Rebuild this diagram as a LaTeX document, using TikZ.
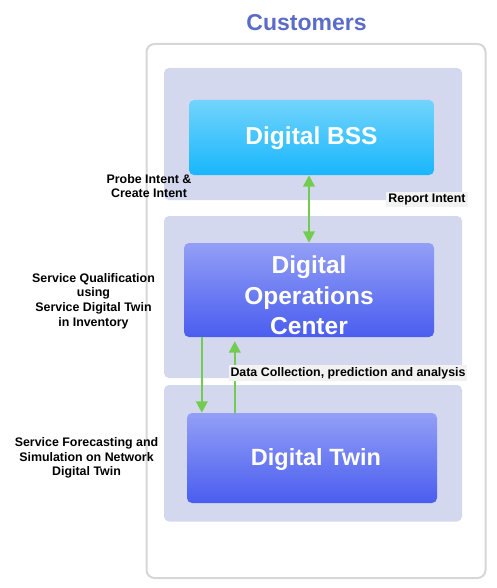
\documentclass[tikz,border=0pt]{standalone}
\usepackage{fontspec}
\setmainfont{Liberation Sans}
\usetikzlibrary{arrows.meta}
\definecolor{panelc}{HTML}{D4D8EE}
\definecolor{outerc}{HTML}{D6D6D6}
\definecolor{titlec}{HTML}{5B6CC8}
\definecolor{bsstop}{HTML}{72D4FC}
\definecolor{bssbot}{HTML}{18B6FC}
\definecolor{bluetop}{HTML}{939FF6}
\definecolor{bluebot}{HTML}{4A5DEF}
\definecolor{arrowc}{HTML}{72CC50}
\definecolor{lblbg}{HTML}{F2F2F2}
\begin{document}
\begin{tikzpicture}[x=1pt,y=-1pt,
  outerbox/.style={draw=outerc, line width=2pt, fill=white, rounded corners=8pt, inner sep=0pt},
  panel/.style={fill=panelc, rounded corners=5pt, inner sep=0pt},
  bssbox/.style={top color=bsstop, bottom color=bssbot, rounded corners=5pt, inner sep=0pt},
  bluebox/.style={top color=bluetop, bottom color=bluebot, rounded corners=5pt, inner sep=0pt},
  boxtext/.style={text=white, font=\fontsize{24.5}{30.5}\selectfont\bfseries, align=center, inner sep=0pt},
  lbl/.style={font=\fontsize{12.4}{14.6}\selectfont\bfseries, align=center, inner sep=0pt},
  lblfill/.style={lbl, fill=lblbg, inner sep=2pt},
  arr/.style={draw=arrowc, line width=2.4pt, -{Triangle[width=11.5pt,length=11.5pt]}},
  dblarr/.style={draw=arrowc, line width=2.4pt, {Triangle[width=11.5pt,length=11.5pt]}-{Triangle[width=11.5pt,length=11.5pt]}}
]
\useasboundingbox (0,0) rectangle (496,588);

\node[font=\fontsize{23}{28}\selectfont\bfseries, text=titlec] (title) at (306.5,22.5) {Customers};

\node[outerbox, minimum width=339pt, minimum height=534pt] (outer) at (316,311) {};

\node[panel, minimum width=298pt, minimum height=132pt] (p1) at (313,134) {};
\node[panel, minimum width=298pt, minimum height=162pt] (p2) at (313,297) {};
\node[panel, minimum width=298pt, minimum height=136.5pt] (p3) at (313,453.25) {};

\node[bssbox, minimum width=245pt, minimum height=75pt] (bss) at (311.5,137.5) {};
\node[bluebox, minimum width=250pt, minimum height=94pt] (doc) at (309,290) {};
\node[bluebox, minimum width=250pt, minimum height=90pt] (twin) at (312,458) {};

\node[boxtext] (bsstxt) at (311.5,138.7) {Digital BSS};
\node[boxtext] (doctxt) at (309,295.7) {Digital\\Operations\\Center};
\node[boxtext, font=\fontsize{23.5}{28}\selectfont\bfseries] (twintxt) at (316,459.2) {Digital Twin};

\draw[dblarr] (bss.south -| doc.north) -- (doc.north);
\coordinate (d1) at ([xshift=18pt]doc.south west);
\coordinate (u1) at ([xshift=51pt]doc.south west);
\draw[arr] (d1) -- (d1 |- twin.north);
\draw[arr, shorten >=4pt] (u1 |- twin.north) -- (u1);

\node[lbl] (probe) at (149,186) {Probe Intent \&\\Create Intent};
\node[lblfill] (report) at (427,199.5) {Report Intent};
\node[lbl] (qual) at (93.5,301) {Service Qualification\\using\\Service Digital Twin\\in Inventory};
\node[lblfill] (data) at (348,373) {Data Collection, prediction and analysis};
\node[lbl] (fore) at (86.5,458) {Service Forecasting and\\Simulation on Network\\Digital Twin};
\end{tikzpicture}
\end{document}
